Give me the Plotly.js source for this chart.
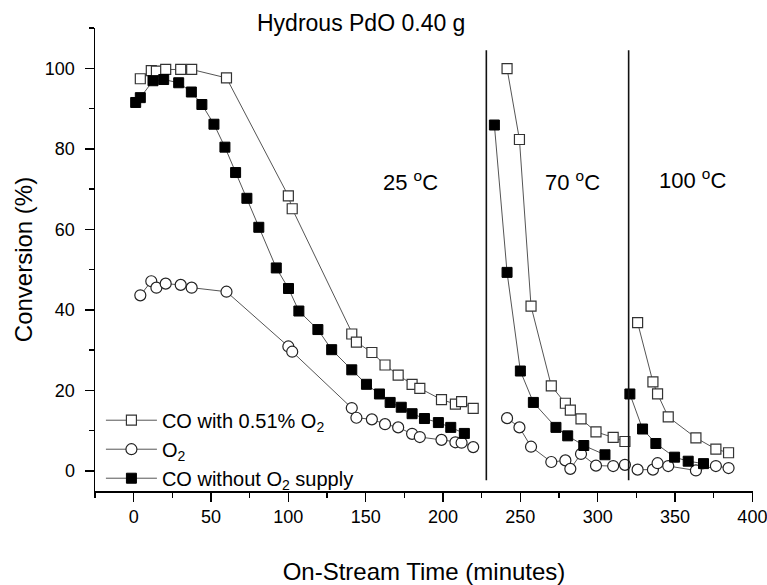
<!DOCTYPE html>
<html>
<head>
<meta charset="utf-8">
<script src="https://cdn.plot.ly/plotly-3.0.1.min.js"></script>
<style>html,body{margin:0;padding:0;background:#fff;}#chart{width:767px;height:585px;}</style>
</head>
<body>
<div id="chart"></div>
<script>
// CO with 0.51% O2 (open squares) and O2 (open circles) share sampling times
const timeWithO2 = [4.3, 11.4, 14.7, 20.7, 30.4, 37.5, 60, 100, 102.5, 141, 144, 154, 162.5, 171, 180, 185, 199, 208, 212, 219.5, null,
                    241.4, 249.4, 256.9, 270, 279.1, 282.3, 289.2, 298.9, 310, 317.6, null,
                    325.8, 335.7, 338.7, 345.6, 363.5, 376.4, 384.6];
const coWithO2 = [97.4, 99.4, 99.3, 99.7, 99.7, 99.7, 97.6, 68.3, 65.1, 34.0, 32.0, 29.4, 26.3, 23.8, 21.5, 20.5, 17.7, 16.6, 17.2, 15.5, null,
                  99.9, 82.3, 40.9, 21.1, 16.8, 15.1, 12.9, 9.7, 8.3, 7.3, null,
                  36.8, 22.1, 19.1, 13.4, 8.2, 5.4, 4.5];
const o2Conv = [43.6, 47.1, 45.5, 46.5, 46.2, 45.5, 44.5, 30.9, 29.6, 15.6, 13.2, 12.8, 11.6, 10.8, 9.2, 8.4, 7.7, 7.1, 7.0, 5.9, null,
                13.1, 10.8, 6.0, 2.2, 2.6, 0.5, 4.2, 1.3, 1.2, 1.5, null,
                0.3, 0.3, 1.9, 1.2, 0.1, 1.2, 0.7];
// CO without O2 supply (filled squares)
const timeNoO2 = [1.3, 4.3, 12.5, 19.4, 29.1, 37.3, 44.1, 51.9, 59, 65.9, 73.2, 80.9, 92.2, 100.1, 106.8, 119.1, 128, 141, 150.5, 158.9, 165.8, 173, 180, 188, 197, 205, 213.8, null,
                  233.2, 241.4, 250, 258.4, 273, 280.6, 291, 304.7, null,
                  320.8, 329, 337.6, 349.7, 358.5, 368.4];
const coNoO2 = [91.5, 92.7, 96.9, 97.2, 96.4, 94.1, 91.0, 86.1, 80.4, 74.1, 67.7, 60.5, 50.4, 45.3, 39.7, 35.1, 30.1, 25.1, 21.5, 19.1, 17.0, 15.8, 14.2, 13.0, 12.0, 10.8, 9.3, null,
                85.9, 49.3, 24.8, 17.0, 10.8, 8.7, 6.3, 4.0, null,
                19.1, 10.4, 6.8, 3.4, 2.4, 1.8];
const seriesNames = ['CO with 0.51% O<sub>2</sub>', 'O<sub>2</sub>', 'CO without O<sub>2</sub> supply'];
const dividerTimes = [228, 320];
const regionLabels = ['25 <sup>o</sup>C', '70 <sup>o</sup>C', '100 <sup>o</sup>C'];
const regionLabelX = [179, 283.6, 361];
const regionLabelY = [72, 72, 72.5];
const xTickVals = [0, 50, 100, 150, 200, 250, 300, 350, 400];
const yTickVals = [0, 20, 40, 60, 80, 100];
const xTitle = 'On-Stream Time (minutes)';
const yTitle = 'Conversion (%)';
const chartTitle = 'Hydrous PdO 0.40 g';

const FONT = 'Liberation Sans, Arial, Helvetica, sans-serif';
const lineStyle = {color: '#555', width: 1};

const traces = [
  {x: timeWithO2, y: coWithO2, name: seriesNames[0], mode: 'lines+markers', line: lineStyle,
   marker: {symbol: 'square', size: 10, color: '#fff', line: {color: '#333', width: 1.2}}},
  {x: timeWithO2, y: o2Conv, name: seriesNames[1], mode: 'lines+markers', line: lineStyle,
   marker: {symbol: 'circle', size: 11, color: '#fff', line: {color: '#222', width: 1.2}}},
  {x: timeNoO2, y: coNoO2, name: seriesNames[2], mode: 'lines+markers', line: lineStyle,
   marker: {symbol: 'square', size: 10, color: '#000', line: {color: '#000', width: 1}}}
];

const shapes = dividerTimes.map(t => ({type: 'line', xref: 'x', yref: 'y', x0: t, x1: t, y0: 104.5, y1: -2.3,
  line: {color: '#111', width: 1.6}}));

const annotations = regionLabels.map((t, i) => ({text: t, x: regionLabelX[i], y: regionLabelY[i], xref: 'x', yref: 'y',
  showarrow: false, font: {family: FONT, size: 22, color: '#000'}}));
annotations.push({text: chartTitle, xref: 'paper', yref: 'paper', x: 0.404, y: 1.01, xanchor: 'center', yanchor: 'middle',
  showarrow: false, font: {family: FONT, size: 23, color: '#000'}});

const axisCommon = {showgrid: false, zeroline: false, showline: true, linecolor: '#000', linewidth: 1.5,
  ticks: 'outside', ticklen: 9, tickwidth: 1.5, tickcolor: '#000', tickfont: {family: FONT, size: 18, color: '#000'}};

const layout = {
  width: 767, height: 585,
  margin: {l: 95, r: 14, t: 28, b: 94},
  paper_bgcolor: '#fff', plot_bgcolor: '#fff',
  font: {family: FONT, color: '#000'},
  showlegend: true,
  legend: {x: 0.009, y: 0.195, xanchor: 'left', yanchor: 'top', bgcolor: 'rgba(0,0,0,0)',
    font: {family: FONT, size: 20, color: '#000'}, itemwidth: 51, tracegroupgap: 0},
  xaxis: Object.assign({}, axisCommon, {range: [-25, 400.4], tickmode: 'array', tickvals: xTickVals, ticklabeloverflow: 'allow',
    minor: {tick0: 0, dtick: 25, ticks: 'outside', ticklen: 5, tickwidth: 1.5, tickcolor: '#000', showgrid: false},
    title: {text: xTitle, font: {family: FONT, size: 24, color: '#000'}, standoff: 38}}),
  yaxis: Object.assign({}, axisCommon, {range: [-5, 110], tickmode: 'array', tickvals: yTickVals, ticklabelstandoff: 6,
    minor: {tick0: 0, dtick: 10, ticks: 'outside', ticklen: 5, tickwidth: 1.5, tickcolor: '#000', showgrid: false},
    title: {text: yTitle, font: {family: FONT, size: 24, color: '#000'}, standoff: 5}}),
  shapes: shapes,
  annotations: annotations
};

Plotly.newPlot('chart', traces, layout, {displayModeBar: false, staticPlot: true});
</script>
</body>
</html>
